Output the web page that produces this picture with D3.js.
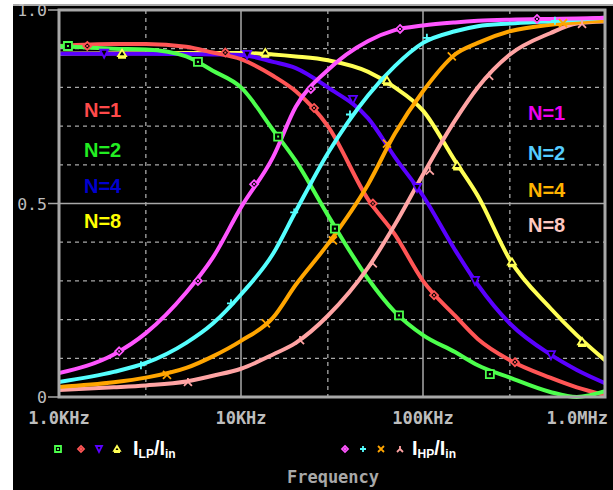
<!DOCTYPE html>
<html>
<head>
<meta charset="utf-8">
<script src="https://cdn.jsdelivr.net/npm/d3@7"></script>
<style>
  body { margin: 0; background: #fff; }
  svg { display: block; }
</style>
</head>
<body>
<svg id="chart" width="613" height="490"></svg>
<script>
const freqs = [1e3, 2e3, 3e3, 5e3, 7e3, 1e4, 1.5e4, 2e4, 3e4, 5e4, 7e4, 1e5, 1.5e5, 2e5, 3e5, 5e5, 7e5, 1e6];

// Low-pass traces I_LP/I_in
const lpN1 = [0.907, 0.912, 0.912, 0.905, 0.89, 0.873, 0.83, 0.79, 0.70, 0.51, 0.42, 0.30, 0.21, 0.15, 0.095, 0.05, 0.025, 0.005];
const lpN2 = [0.907, 0.90, 0.898, 0.88, 0.843, 0.80, 0.69, 0.61, 0.47, 0.305, 0.22, 0.16, 0.116, 0.082, 0.05, 0.013, 0.0, 0.015];
const lpN4 = [0.887, 0.887, 0.887, 0.886, 0.885, 0.884, 0.866, 0.85, 0.80, 0.72, 0.62, 0.52, 0.38, 0.29, 0.19, 0.11, 0.07, 0.036];
const lpN8 = [0.887, 0.888, 0.888, 0.889, 0.889, 0.889, 0.885, 0.88, 0.87, 0.84, 0.80, 0.74, 0.61, 0.52, 0.355, 0.23, 0.16, 0.095];

// High-pass traces I_HP/I_in
const hpN1 = [0.062, 0.11, 0.165, 0.27, 0.36, 0.49, 0.62, 0.75, 0.845, 0.92, 0.948, 0.96, 0.968, 0.972, 0.975, 0.977, 0.978, 0.98];
const hpN2 = [0.039, 0.065, 0.088, 0.14, 0.19, 0.265, 0.37, 0.48, 0.63, 0.78, 0.855, 0.915, 0.945, 0.958, 0.965, 0.971, 0.975, 0.98];
const hpN4 = [0.026, 0.038, 0.05, 0.075, 0.105, 0.145, 0.205, 0.29, 0.395, 0.55, 0.68, 0.79, 0.885, 0.915, 0.945, 0.962, 0.968, 0.972];
const hpN8 = [0.018, 0.025, 0.03, 0.04, 0.055, 0.073, 0.11, 0.14, 0.21, 0.335, 0.445, 0.575, 0.715, 0.80, 0.885, 0.94, 0.965, 0.97];

// Trace markers [frequency, value]
const mkLpN1 = [[1.43e3, 0.907], [8.2e3, 0.89], [2.52e4, 0.747], [5.3e4, 0.50], [1.15e5, 0.263], [3.2e5, 0.09]];
const mkLpN2 = [[1.12e3, 0.907], [5.8e3, 0.866], [1.6e4, 0.673], [3.28e4, 0.435], [7.38e4, 0.211], [2.33e5, 0.059]];
const mkLpN4 = [[1.77e3, 0.887], [1.08e4, 0.884], [4.12e4, 0.768], [9.27e4, 0.54], [1.93e5, 0.30], [5.05e5, 0.108]];
const mkLpN8 = [[2.22e3, 0.887], [1.36e4, 0.889], [6.34e4, 0.817], [1.54e5, 0.598], [3.08e5, 0.348], [7.48e5, 0.142]];
const mkHpN1 = [[2.14e3, 0.118], [5.8e3, 0.30], [1.18e4, 0.55], [2.42e4, 0.796], [7.48e4, 0.951], [4.23e5, 0.977]];
const mkHpN2 = [[2.82e3, 0.082], [8.81e3, 0.242], [1.96e4, 0.477], [3.97e4, 0.73], [1.05e5, 0.928], [5.31e5, 0.972]];
const mkHpN4 = [[3.92e3, 0.057], [1.37e4, 0.19], [3.2e4, 0.405], [6.34e4, 0.655], [1.44e5, 0.88], [5.88e5, 0.966]];
const mkHpN8 = [[5.11e3, 0.039], [2.11e4, 0.147], [5.3e4, 0.345], [1.09e5, 0.585], [2.31e5, 0.83], [7.48e5, 0.964]];

const xTickVals = [1e3, 1e4, 1e5, 1e6];
const xTickLabels = ["1.0KHz", "10KHz", "100KHz", "1.0MHz"];
const xMinorGrid = [3e3, 3e4, 3e5];
const yTickVals = [0, 0.5, 1.0];
const yTickLabels = ["0", "0.5", "1.0"];
const yDashGrid = [0.1, 0.2, 0.3, 0.4, 0.6, 0.7, 0.8, 0.9];
const nLabels = ["N=1", "N=2", "N=4", "N=8"];

// trace setup: values, markers, colour, marker shape
const traces = [
    { vals: lpN8, mk: mkLpN8, color: "#ffff55", shape: "triUp" },
    { vals: lpN4, mk: mkLpN4, color: "#5a00ff", shape: "triDown" },
    { vals: lpN1, mk: mkLpN1, color: "#ff5555", shape: "diamond" },
    { vals: lpN2, mk: mkLpN2, color: "#4cff4c", shape: "square" },
    { vals: hpN8, mk: mkHpN8, color: "#ffa4a4", shape: "lambda" },
    { vals: hpN4, mk: mkHpN4, color: "#ffa500", shape: "times" },
    { vals: hpN2, mk: mkHpN2, color: "#55ffff", shape: "plus" },
    { vals: hpN1, mk: mkHpN1, color: "#ff55ff", shape: "diamond" }
];

const svg = d3.select("#chart");
const gray = "#a8a8a8";
const mono = "'DejaVu Sans Mono', monospace";

// window background
svg.append("rect").attr("x", 13).attr("y", 4).attr("width", 600).attr("height", 486).attr("fill", "#000");
svg.append("line").attr("x1", 13).attr("x2", 613).attr("y1", 5).attr("y2", 5).attr("stroke", gray).attr("stroke-width", 2);

const x = d3.scaleLog().domain([1e3, 1e6]).range([59, 605]);
const y = d3.scaleLinear().domain([0, 1]).range([397, 10]);

// grid
const grid = svg.append("g");
grid.selectAll(".vd").data(xMinorGrid).join("line")
    .attr("x1", d => x(d)).attr("x2", d => x(d)).attr("y1", y(1)).attr("y2", y(0))
    .attr("stroke", gray).attr("stroke-width", 1.3).attr("stroke-dasharray", "4,4");
grid.selectAll(".hd").data(yDashGrid).join("line")
    .attr("x1", x(1e3)).attr("x2", x(1e6)).attr("y1", d => y(d)).attr("y2", d => y(d))
    .attr("stroke", gray).attr("stroke-width", 1.3).attr("stroke-dasharray", "4,4");
grid.selectAll(".vs").data(xTickVals.slice(1, 3)).join("line")
    .attr("x1", d => x(d)).attr("x2", d => x(d)).attr("y1", y(1)).attr("y2", y(0))
    .attr("stroke", gray).attr("stroke-width", 1.5);
grid.append("line").attr("x1", x(1e3)).attr("x2", x(1e6)).attr("y1", y(0.5)).attr("y2", y(0.5))
    .attr("stroke", gray).attr("stroke-width", 1.5);

// labels N=..
const leftColors = ["#ff4a4a", "#22ee22", "#0000d0", "#ffff00"];
const rightColors = ["#ee00ee", "#55ccff", "#ffb300", "#ffc8c0"];
const leftBase = [117, 157, 193, 228];
const rightBase = [120, 160, 197, 232];
svg.append("g").selectAll("text").data(nLabels).join("text")
    .attr("x", 84).attr("y", (d, i) => leftBase[i])
    .attr("fill", (d, i) => leftColors[i])
    .style("font-family", "'Liberation Sans', Arial, sans-serif").style("font-weight", "bold").style("font-size", "20px")
    .text(d => d);
svg.append("g").selectAll("text").data(nLabels).join("text")
    .attr("x", 528).attr("y", (d, i) => rightBase[i])
    .attr("fill", (d, i) => rightColors[i])
    .style("font-family", "'Liberation Sans', Arial, sans-serif").style("font-weight", "bold").style("font-size", "20px")
    .text(d => d);

// traces
svg.append("clipPath").attr("id", "plotClip").append("rect")
    .attr("x", 59).attr("y", 8).attr("width", 546).attr("height", 391);
const line = d3.line().x((d, i) => x(freqs[i])).y(d => y(d)).curve(d3.curveMonotoneX);
const plot = svg.append("g").attr("clip-path", "url(#plotClip)");
traces.forEach(t => {
    plot.append("path").datum(t.vals)
        .attr("fill", "none").attr("stroke", t.color).attr("stroke-width", 4)
        .attr("stroke-linejoin", "round").attr("d", line);
});

// marker shapes
function markerPath(shape, s) {
    const p = d3.path();
    if (shape === "square") { p.rect(-s, -s, 2 * s, 2 * s); }
    else if (shape === "diamond") { p.moveTo(0, -s); p.lineTo(s, 0); p.lineTo(0, s); p.lineTo(-s, 0); p.closePath(); }
    else if (shape === "triDown") { p.moveTo(-s, -s); p.lineTo(s, -s); p.lineTo(0, s); p.closePath(); }
    else if (shape === "triUp") { p.moveTo(0, -s); p.lineTo(s, s * 0.6); p.lineTo(-s, s * 0.6); p.closePath(); p.moveTo(-s, s); p.lineTo(s, s); }
    else if (shape === "plus") { p.moveTo(-s, 0); p.lineTo(s, 0); p.moveTo(0, -s); p.lineTo(0, s); }
    else if (shape === "times") { p.moveTo(-s, -s); p.lineTo(s, s); p.moveTo(s, -s); p.lineTo(-s, s); }
    else if (shape === "lambda") { p.moveTo(0, -s); p.lineTo(0, 0); p.lineTo(-s, s); p.moveTo(0, 0); p.lineTo(s, s); }
    return p.toString();
}
const filled = ["square", "diamond", "triDown", "triUp"];
function drawMarker(g, shape, color, cx, cy, s) {
    g.append("path").attr("transform", `translate(${cx},${cy})`)
        .attr("d", markerPath(shape, s))
        .attr("fill", filled.includes(shape) ? "#000" : "none")
        .attr("stroke", color).attr("stroke-width", 1.8);
    if (shape === "diamond" || shape === "square") {
        g.append("rect").attr("x", cx - 1).attr("y", cy - 1).attr("width", 2).attr("height", 2).attr("fill", color);
    }
}
traces.forEach(t => {
    t.mk.forEach(m => drawMarker(plot, t.shape, t.color, x(m[0]), y(m[1]), 4));
});

// frame
svg.append("rect").attr("x", x(1e3)).attr("y", y(1)).attr("width", x(1e6) - x(1e3)).attr("height", y(0) - y(1))
    .attr("fill", "none").attr("stroke", gray).attr("stroke-width", 3);

// y ticks
const yAx = svg.append("g");
yAx.selectAll("line").data(yTickVals).join("line")
    .attr("x1", 48).attr("x2", 59).attr("y1", d => y(d)).attr("y2", d => y(d))
    .attr("stroke", gray).attr("stroke-width", 1.5);
yAx.selectAll("text").data(yTickVals).join("text")
    .attr("x", 47).attr("y", d => y(d) + 6).attr("text-anchor", "end")
    .attr("fill", "#bdbdbd").style("font-family", mono).style("font-size", "16.5px")
    .text((d, i) => yTickLabels[i]);

// x tick labels
svg.append("g").selectAll("text").data(xTickVals).join("text")
    .attr("x", (d, i) => i === 3 ? 608 : x(d)).attr("y", 424)
    .attr("text-anchor", (d, i) => i === 3 ? "end" : "middle")
    .attr("fill", "#bdbdbd").style("font-family", mono).style("font-size", "17px").style("font-weight", "bold")
    .text((d, i) => xTickLabels[i]);

// legend
const leg = svg.append("g");
const lpLeg = [traces[3], traces[2], traces[1], traces[0]];
const hpLeg = [traces[7], traces[6], traces[5], traces[4]];
const lpLegX = [58, 81, 99, 117];
const hpLegX = [345, 363, 381, 400];
lpLeg.forEach((t, i) => drawMarker(leg, t.shape, t.color, lpLegX[i], 449, 3));
hpLeg.forEach((t, i) => drawMarker(leg, t.shape, t.color, hpLegX[i], 449, 3));
function legendText(lx, sub) {
    const t = leg.append("text").attr("x", lx).attr("y", 455).attr("fill", "#fff")
        .style("font-family", "'Liberation Sans', Arial, sans-serif").style("font-weight", "bold").style("font-size", "20px");
    t.append("tspan").text("I");
    t.append("tspan").attr("dy", 3).style("font-size", "12px").text(sub);
    t.append("tspan").attr("dy", -3).text("/I");
    t.append("tspan").attr("dy", 3).style("font-size", "12px").text("in");
}
legendText(133, "LP");
legendText(412, "HP");

svg.append("text").attr("x", 333).attr("y", 483).attr("text-anchor", "middle")
    .attr("fill", "#a8a8a8").style("font-family", mono).style("font-size", "17px").style("font-weight", "bold")
    .text("Frequency");
</script>
</body>
</html>
